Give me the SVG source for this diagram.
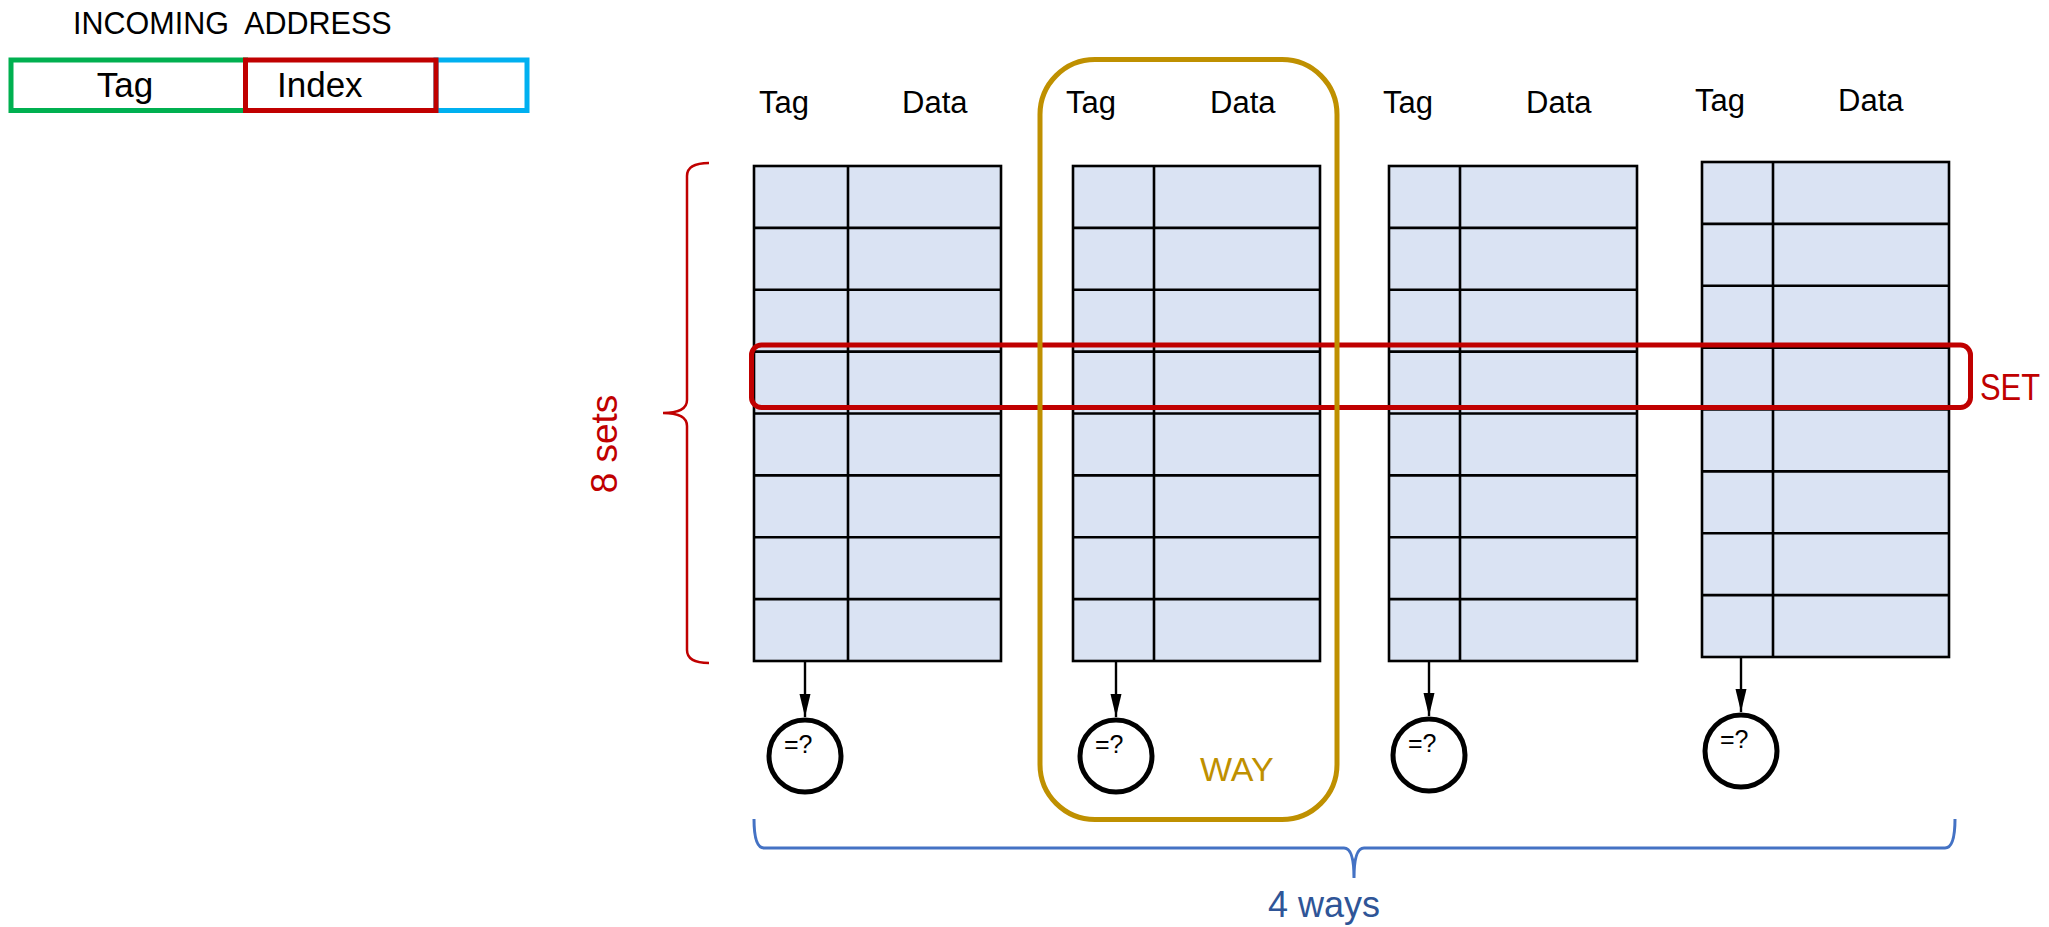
<svg xmlns="http://www.w3.org/2000/svg" width="2049" height="927" viewBox="0 0 2049 927">
  <style>
    text { font-family: "Liberation Sans", Arial, sans-serif; }
    .hdr { font-size: 31px; fill: #000; }
    .cell { fill: #DAE3F3; stroke: #000; stroke-width: 2.6; }
    .grid { fill: none; stroke: #000; stroke-width: 2.6; }
    .cmp { fill: #fff; stroke: #000; stroke-width: 5; }
    .cmp-t { font-size: 25px; fill: #000; }
    .arrow { stroke: #000; stroke-width: 2.4; fill: none; marker-end: url(#ah); }
  </style>
  <defs>
    <marker id="ah" markerUnits="userSpaceOnUse" markerWidth="24" markerHeight="12" refX="23" refY="5.5" orient="auto">
      <path d="M0,0 L23,5.5 L0,11 z" fill="#000"/>
    </marker>
  </defs>
  <rect width="2049" height="927" fill="#fff"/>

  <!-- incoming address fields -->
  <g id="address">
    <text x="73" y="34" font-size="30.5" xml:space="preserve">INCOMING  ADDRESS</text>
    <rect x="11" y="60" width="234.5" height="50.5" fill="none" stroke="#00B050" stroke-width="5"/>
    <rect x="436" y="60" width="91" height="50.5" fill="none" stroke="#00B0F0" stroke-width="5"/>
    <rect x="245.5" y="60" width="190.5" height="50.5" fill="none" stroke="#C00000" stroke-width="5"/>
    <text x="125" y="97" font-size="35" text-anchor="middle">Tag</text>
    <text x="277" y="97" font-size="35">Index</text>
  </g>

  <!-- way 0 -->
  <g id="way0">
    <text class="hdr" x="759" y="113">Tag</text>
    <text class="hdr" x="902" y="113">Data</text>
    <rect class="cell" x="754" y="166" width="247" height="495"/>
    <path class="grid" d="M848,166V661 M754,227.9H1001 M754,289.75H1001 M754,351.6H1001 M754,413.5H1001 M754,475.4H1001 M754,537.25H1001 M754,599.1H1001"/>
  </g>
  <!-- way 1 -->
  <g id="way1">
    <text class="hdr" x="1066" y="113">Tag</text>
    <text class="hdr" x="1210" y="113">Data</text>
    <rect class="cell" x="1073" y="166" width="247" height="495"/>
    <path class="grid" d="M1154,166V661 M1073,227.9H1320 M1073,289.75H1320 M1073,351.6H1320 M1073,413.5H1320 M1073,475.4H1320 M1073,537.25H1320 M1073,599.1H1320"/>
  </g>
  <!-- way 2 -->
  <g id="way2">
    <text class="hdr" x="1383" y="113">Tag</text>
    <text class="hdr" x="1526" y="113">Data</text>
    <rect class="cell" x="1389" y="166" width="248" height="495"/>
    <path class="grid" d="M1460,166V661 M1389,227.9H1637 M1389,289.75H1637 M1389,351.6H1637 M1389,413.5H1637 M1389,475.4H1637 M1389,537.25H1637 M1389,599.1H1637"/>
  </g>
  <!-- way 3 -->
  <g id="way3">
    <text class="hdr" x="1695" y="111">Tag</text>
    <text class="hdr" x="1838" y="111">Data</text>
    <rect class="cell" x="1702" y="162" width="247" height="495"/>
    <path class="grid" d="M1773,162V657 M1702,223.9H1949 M1702,285.75H1949 M1702,347.6H1949 M1702,409.5H1949 M1702,471.4H1949 M1702,533.25H1949 M1702,595.1H1949"/>
  </g>

  <!-- tag comparators -->
  <g id="cmp0">
    <circle class="cmp" cx="805" cy="756" r="36"/>
    <text class="cmp-t" x="784" y="753">=?</text>
  </g>
  <g id="cmp1">
    <circle class="cmp" cx="1116" cy="756" r="36"/>
    <text class="cmp-t" x="1095" y="753">=?</text>
  </g>
  <g id="cmp2">
    <circle class="cmp" cx="1429" cy="755" r="36"/>
    <text class="cmp-t" x="1408" y="752">=?</text>
  </g>
  <g id="cmp3">
    <circle class="cmp" cx="1741" cy="751" r="36"/>
    <text class="cmp-t" x="1720" y="748">=?</text>
  </g>

  <!-- tag column to comparator -->
  <g id="connectors">
    <line class="arrow" x1="805" y1="662" x2="805" y2="717"/>
    <line class="arrow" x1="1116" y1="662" x2="1116" y2="717"/>
    <line class="arrow" x1="1429" y1="662" x2="1429" y2="716"/>
    <line class="arrow" x1="1741" y1="658" x2="1741" y2="712"/>
  </g>

  <!-- sets brace -->
  <g id="sets-brace">
    <path d="M709,163 Q687,163 687,176 L687,400 Q687,413 663,413 Q687,413 687,426 L687,650 Q687,663 709,663" fill="none" stroke="#C00000" stroke-width="2.5"/>
    <text transform="translate(617,444) rotate(-90)" font-size="37" fill="#C00000" text-anchor="middle">8 sets</text>
  </g>

  <!-- ways brace -->
  <g id="ways-brace">
    <path d="M754,819 Q754,848 764,848 L1344,848 Q1354,848 1354,878 Q1354,848 1364,848 L1945,848 Q1955,848 1955,819" fill="none" stroke="#4472C4" stroke-width="3"/>
    <text x="1268" y="917" font-size="36" fill="#2F5597">4 ways</text>
  </g>

  <!-- one set across all ways -->
  <g id="set">
    <rect x="751.5" y="345" width="1219" height="62.5" rx="10" fill="none" stroke="#C00000" stroke-width="5"/>
    <text x="1980" y="400" font-size="36" fill="#C00000" textLength="60" lengthAdjust="spacingAndGlyphs">SET</text>
  </g>

  <!-- one way -->
  <g id="way">
    <rect x="1040" y="59.5" width="297" height="760" rx="55" fill="none" stroke="#BF9000" stroke-width="5"/>
    <text x="1200" y="781" font-size="34" fill="#BF9000">WAY</text>
  </g>
</svg>
